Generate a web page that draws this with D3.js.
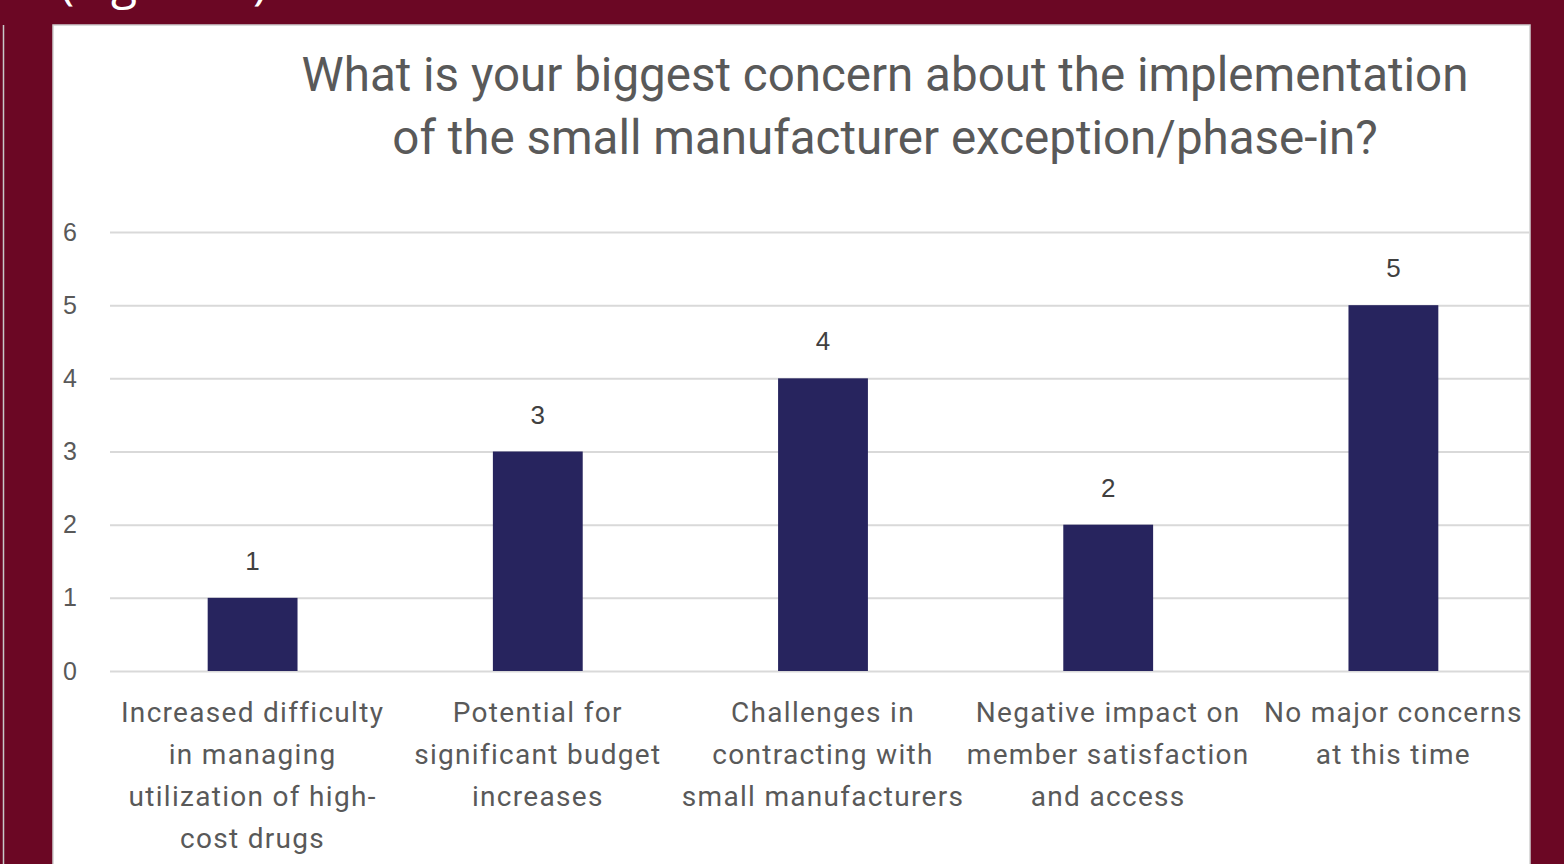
<!DOCTYPE html>
<html>
<head>
<meta charset="utf-8">
<script src="https://cdn.jsdelivr.net/npm/d3@7"></script>
<style>
  html, body { margin: 0; padding: 0; background: #6b0724; }
  svg { display: block; }
</style>
</head>
<body>
<div id="chart"></div>
<script>
// chart data
const categories = [
    ["Increased difficulty", "in managing", "utilization of high-", "cost drugs"],
    ["Potential for", "significant budget", "increases"],
    ["Challenges in", "contracting with", "small manufacturers"],
    ["Negative impact on", "member satisfaction", "and access"],
    ["No major concerns", "at this time"]
];
const counts = [1, 3, 4, 2, 5];
const yTicks = [0, 1, 2, 3, 4, 5, 6];
const titleLines = [
    "What is your biggest concern about the implementation",
    "of the small manufacturer exception/phase-in?"
];

const W = 1564, H = 864;
const panel = { x: 53, y: 25, w: 1477, h: 860 };
const margin = { left: 110, right: 1536, top: 232, bottom: 671 };

const svg = d3.select('#chart').append('svg')
    .attr('width', W)
    .attr('height', H);

// maroon slide background
svg.append('rect').attr('width', W).attr('height', H).attr('fill', '#6b0724');

// caption peeking from above (cut off in the original too)
svg.append('text')
    .attr('x', 60)
    .attr('y', -1)
    .attr('fill', '#ffffff')
    .style('font-family', 'Open Sans')
    .style('font-size', '48px')
    .text('(Figure 6)');

// thin line at far left
svg.append('line')
    .attr('x1', 3.5).attr('x2', 3.5)
    .attr('y1', 25).attr('y2', H)
    .attr('stroke', '#c8c8c8').attr('stroke-width', 1.5);

// white chart panel
svg.append('rect')
    .attr('x', panel.x).attr('y', panel.y)
    .attr('width', panel.w).attr('height', panel.h)
    .attr('fill', '#ffffff')
    .attr('stroke', '#d0d0d0')
    .attr('stroke-width', 1.5);

svg.append('clipPath').attr('id', 'panel-clip')
    .append('rect')
    .attr('x', panel.x).attr('y', panel.y)
    .attr('width', panel.w).attr('height', panel.h);

const plot = svg.append('g').attr('clip-path', 'url(#panel-clip)');

// scales
const x = d3.scaleBand()
    .domain(d3.range(counts.length))
    .range([margin.left, margin.right])
    .paddingInner(0.685)
    .paddingOuter(0.3425);

const y = d3.scaleLinear()
    .domain([0, 6])
    .range([margin.bottom, margin.top]);

// gridlines + y labels
const yAxis = d3.axisLeft(y)
    .tickValues(yTicks)
    .tickSize(-(margin.right - margin.left))
    .tickFormat(d3.format('d'));

const gy = plot.append('g')
    .attr('transform', `translate(${margin.left},0)`)
    .call(yAxis);
gy.select('.domain').remove();
gy.selectAll('.tick line')
    .attr('stroke', '#d9d9d9')
    .attr('stroke-width', 2);
gy.selectAll('.tick text')
    .attr('fill', '#595959')
    .attr('text-anchor', 'start')
    .attr('x', -47)
    .style('font-family', 'Liberation Sans')
    .style('font-size', '25px');

// bars
plot.selectAll('rect.bar')
    .data(counts)
    .enter()
    .append('rect')
    .attr('class', 'bar')
    .attr('x', (d, i) => x(i))
    .attr('y', d => y(d))
    .attr('width', x.bandwidth())
    .attr('height', d => y(0) - y(d))
    .attr('fill', '#27245e');

// value labels
plot.selectAll('text.val')
    .data(counts)
    .enter()
    .append('text')
    .attr('class', 'val')
    .attr('x', (d, i) => x(i) + x.bandwidth() / 2)
    .attr('y', d => y(d) - 28)
    .attr('text-anchor', 'middle')
    .attr('fill', '#404040')
    .style('font-family', 'Liberation Sans')
    .style('font-size', '26px')
    .text(d => d);

// category labels
const catG = plot.selectAll('text.cat')
    .data(categories)
    .enter()
    .append('text')
    .attr('class', 'cat')
    .attr('text-anchor', 'middle')
    .attr('fill', '#595959')
    .style('font-family', 'Roboto')
    .style('font-size', '28px')
    .style('letter-spacing', '1.3px');

catG.selectAll('tspan')
    .data((d, i) => d.map(line => ({ line, i })))
    .enter()
    .append('tspan')
    .attr('x', d => x(d.i) + x.bandwidth() / 2)
    .attr('y', (d, j) => 722 + j * 42)
    .text(d => d.line);

// title
svg.append('text')
    .attr('text-anchor', 'middle')
    .attr('fill', '#595959')
    .style('font-family', 'Roboto')
    .style('font-size', '47.5px')
    .selectAll('tspan')
    .data(titleLines)
    .enter()
    .append('tspan')
    .attr('x', 885)
    .attr('y', (d, i) => 91 + i * 63)
    .text(d => d);
</script>
</body>
</html>
